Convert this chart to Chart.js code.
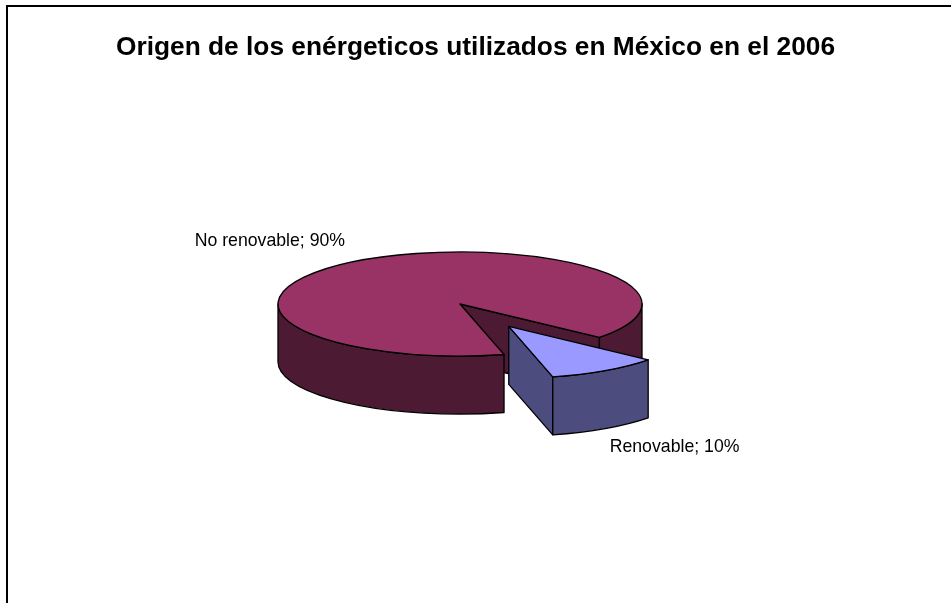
<!DOCTYPE html>
<html>
<head>
<meta charset="utf-8">
<script src="https://cdn.jsdelivr.net/npm/chart.js"></script>
<style>
  body { margin: 0; background: #fff; }
  #frame { position: absolute; left: 6px; top: 5px; width: 1000px; height: 1000px; border: 2px solid #000; box-sizing: border-box; }
  #wrap { position: absolute; left: 0; top: 0; width: 951px; height: 603px; }
</style>
</head>
<body>
<div id="frame"></div>
<div id="wrap"><canvas id="myChart"></canvas></div>
<script>
// Data
const categories = ['No renovable', 'Renovable'];
const percents = [90, 10];
const title = 'Origen de los enérgeticos utilizados en México en el 2006';

// 3d look
const tilt = 0.286;
const depth = 58;

const fontFamily = "'Liberation Sans', Arial, sans-serif";
Chart.defaults.font.family = fontFamily;

// draws the pie as a tilted disc from the arc geometry chart.js computed
const pie3d = {
    id: 'pie3d',
    beforeDatasetDraw(chart, args) {
        const ctx = chart.ctx;
        const ds = chart.data.datasets[args.index];
        ctx.save();
        ctx.lineWidth = 1.3;
        ctx.strokeStyle = '#000';
        ctx.lineJoin = 'round';
        args.meta.data.forEach((arc, i) => {
            const p = arc.getProps(['x', 'y', 'startAngle', 'endAngle', 'outerRadius']);
            const s = p.startAngle, e = p.endAngle, r = p.outerRadius;
            const m = (s + e) / 2;
            const off = arc.options.offset || 0;
            const cx = p.x + off * Math.cos(m);
            const cy = p.y + off * Math.sin(m) * tilt;
            const pt = a => [cx + r * Math.cos(a), cy + r * tilt * Math.sin(a)];
            const side = ds.sideColor[i];

            // cut faces that look to the front
            [[e, Math.cos(e) > 0], [s, Math.cos(s) < 0]].forEach(([a, show]) => {
                if (!show) return;
                const q = pt(a);
                ctx.beginPath();
                ctx.moveTo(cx, cy);
                ctx.lineTo(q[0], q[1]);
                ctx.lineTo(q[0], q[1] + depth);
                ctx.lineTo(cx, cy + depth);
                ctx.closePath();
                ctx.fillStyle = side;
                ctx.fill();
                ctx.stroke();
            });

            // outer wall, only the front half of the ellipse
            const TAU = Math.PI * 2;
            for (let n = Math.floor(s / TAU) - 1; n <= Math.ceil(e / TAU); n++) {
                const a0 = Math.max(s, n * TAU), a1 = Math.min(e, n * TAU + Math.PI);
                if (a1 <= a0) continue;
                ctx.beginPath();
                ctx.ellipse(cx, cy, r, r * tilt, 0, a0, a1);
                ctx.ellipse(cx, cy + depth, r, r * tilt, 0, a1, a0, true);
                ctx.closePath();
                ctx.fillStyle = side;
                ctx.fill();
                ctx.stroke();
            }

            // top
            ctx.beginPath();
            ctx.moveTo(cx, cy);
            ctx.ellipse(cx, cy, r, r * tilt, 0, s, e);
            ctx.closePath();
            ctx.fillStyle = ds.backgroundColor[i];
            ctx.fill();
            ctx.stroke();
        });
        ctx.restore();
        return false;
    },
    afterDatasetsDraw(chart) {
        const ctx = chart.ctx;
        const meta = chart.getDatasetMeta(0);
        ctx.save();
        ctx.font = '17.7px ' + fontFamily;
        ctx.fillStyle = '#000';
        ctx.textBaseline = 'middle';
        meta.data.forEach((arc, i) => {
            const p = arc.getProps(['x', 'y', 'startAngle', 'endAngle', 'outerRadius']);
            const m = (p.startAngle + p.endAngle) / 2;
            const off = arc.options.offset || 0;
            const rr = p.outerRadius * 1.15 + off;
            const front = Math.sin(m) > 0;
            let x = p.x + rr * Math.cos(m);
            let y = p.y + rr * tilt * Math.sin(m) + (front ? depth + 12 : -12);
            const left = Math.cos(m) < 0;
            ctx.textAlign = left ? 'right' : 'left';
            ctx.fillText(categories[i] + '; ' + percents[i] + '%', x + (left ? -4 : -10), y);
        });

        // title, centred on the whole canvas
        ctx.font = 'bold 26.3px ' + fontFamily;
        ctx.textAlign = 'center';
        ctx.fillText(title, chart.width / 2, 48);
        ctx.restore();
    }
};

const ctx = document.getElementById('myChart').getContext('2d');

const data = {
    labels: categories,
    datasets: [{
        data: percents,
        backgroundColor: ['#993366', '#9999ff'],
        sideColor: ['#4c1a33', '#4c4c7f'],
        offset: [0, 92],
        borderWidth: 0
    }]
};

const config = {
    type: 'pie',
    data,
    options: {
        responsive: true,
        maintainAspectRatio: false,
        animation: false,
        events: [],
        rotation: 166,
        radius: 182,
        layout: {
            padding: { left: 0, right: 31, top: 71, bottom: 66 }
        },
        plugins: {
            legend: { display: false },
            tooltip: { enabled: false },
            title: { display: false }
        }
    },
    plugins: [pie3d]
};

let myChart = new Chart(ctx, config);
</script>
</body>
</html>
